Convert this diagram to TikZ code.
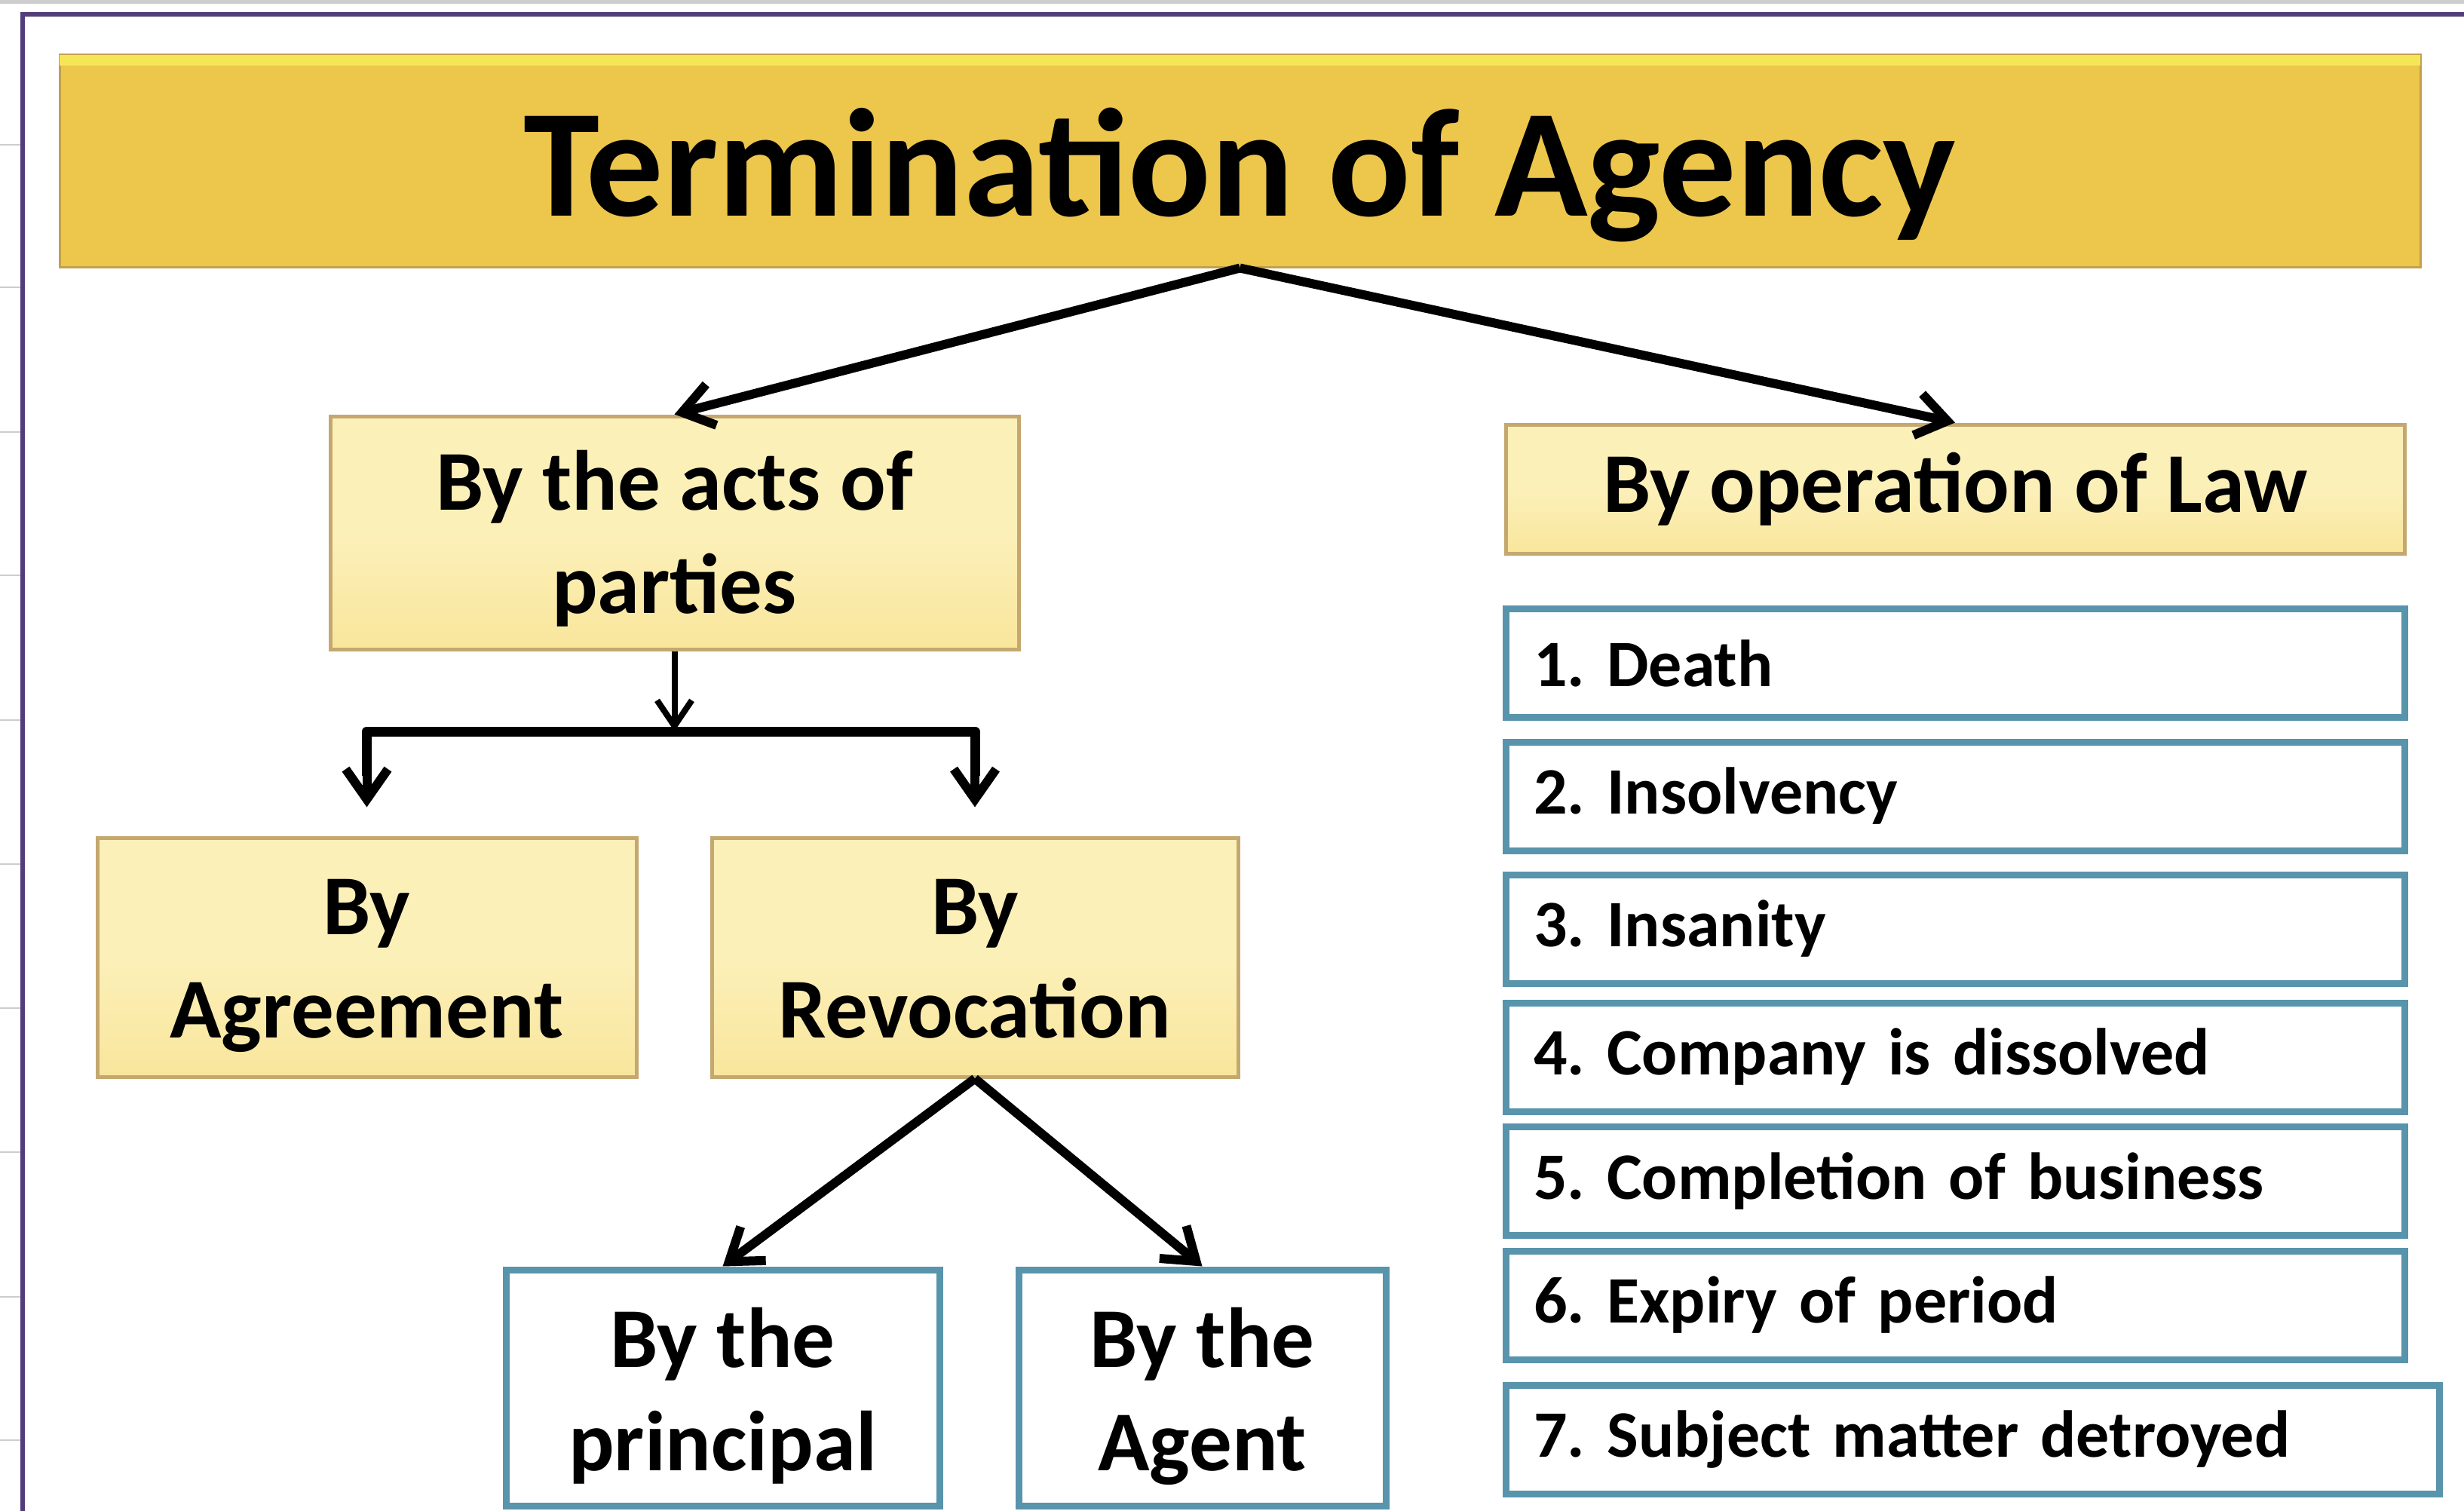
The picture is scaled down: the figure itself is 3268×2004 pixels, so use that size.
\documentclass[tikz,border=0pt]{standalone}
\usepackage{fontspec}
\setmainfont{Carlito}
\frenchspacing
\usetikzlibrary{arrows.meta,calc}
\newcommand\topstr{\rule[-41pt]{0pt}{158pt}}
\definecolor{titlefill}{RGB}{237,198,76}
\definecolor{titlehi}{RGB}{245,230,88}
\definecolor{titledark}{RGB}{196,160,74}
\definecolor{yfill}{RGB}{249,230,156}
\definecolor{ytop}{RGB}{252,240,185}
\definecolor{ydraw}{RGB}{196,168,112}
\definecolor{bdraw}{RGB}{88,148,172}
\definecolor{framecol}{RGB}{84,60,122}
\definecolor{gridcol}{RGB}{205,205,205}
\begin{document}
\begin{tikzpicture}[x=1pt,y=-1pt,
  arr/.style={draw=black,line width=12pt,-{Straight Barb[length=40pt,width=56pt]}},
  thinarr/.style={draw=black,line width=8pt,-{Straight Barb[length=34pt,width=46pt]}},
  barline/.style={draw=black,line width=13pt,line join=round},
  ybox/.style={draw=ydraw,line width=5pt,top color=ytop,bottom color=yfill,middle color=ytop,
    inner sep=0pt,align=center,font=\fontsize{113}{136}\selectfont\bfseries},
  bbox/.style={draw=bdraw,line width=9pt,fill=white,inner sep=0pt,align=center,
    font=\fontsize{113}{136}\selectfont\bfseries},
  lbox/.style={draw=bdraw,line width=9pt,fill=white,inner sep=0pt,align=left,
    minimum height=144pt,font=\fontsize{88}{106}\selectfont\bfseries}]
\useasboundingbox (0,0) rectangle (3268,2004);
\fill[white] (0,0) rectangle (3268,2004);
% page furniture
\draw[gridcol,line width=5pt] (0,3) -- (3268,3);
\foreach \yy in {192,381,573,763,955,1146,1337,1528,1720,1910}
  \draw[gridcol,line width=2.5pt] (0,\yy) -- (27,\yy);
\draw[framecol,line width=6pt] (30,2004) -- (30,19) -- (3268,19);
% title
\node[fill=titlefill,draw=titledark,line width=3pt,minimum width=3131pt,minimum height=281pt,
  inner sep=0pt,text height=150pt,text depth=5pt,font=\fontsize{204}{240}\selectfont\bfseries]
  (title) at (1644.5,213.5) {Termination of Agency};
\fill[titlehi] ($(title.north west)+(1.5,1.5)$) rectangle ($(title.north east)+(-1.5,16)$);
% left branch
\node[ybox,minimum width=913pt,minimum height=309pt] (acts) at (894.5,706.5) {\topstr By the acts of\\\strut parties};
\node[ybox,minimum width=715pt,minimum height=317pt] (agree) at (486.5,1269.5) {\topstr By\\\strut Agreement};
\node[ybox,minimum width=698pt,minimum height=317pt] (revoc) at (1293,1269.5) {\topstr By\\\strut Revocation};
\node[bbox,minimum width=575pt,minimum height=313pt] (princ) at (958.5,1840.5) {\rule[-41pt]{0pt}{164pt}By the\\\strut principal};
\node[bbox,minimum width=487pt,minimum height=313pt] (agent) at (1594.5,1840.5) {\rule[-41pt]{0pt}{164pt}By the\\\strut Agent};
% right branch
\node[ybox,minimum width=1192pt,minimum height=171pt] (law) at (2593,648.5) {By operation of Law};
\node[lbox,minimum width=1192pt,text width=1118pt] (l1) at (2593,879.5) {1. Death};
\node[lbox,minimum width=1192pt,text width=1118pt] (l2) at (2593,1056) {2. Insolvency};
\node[lbox,minimum width=1192pt,text width=1118pt] (l3) at (2593,1232) {3. Insanity};
\node[lbox,minimum width=1192pt,text width=1118pt] (l4) at (2593,1402) {4. Company is dissolved};
\node[lbox,minimum width=1192pt,text width=1118pt] (l5) at (2593,1566) {5. Completion of business};
\node[lbox,minimum width=1192pt,text width=1118pt] (l6) at (2593,1731) {6. Expiry of period};
\node[lbox,minimum width=1238pt,text width=1164pt] (l7) at (2616,1909) {7. Subject matter detroyed};
% connectors
\draw[arr] (title.south) -- (acts.north);
\draw[arr] (title.south) -- (law.north);
\coordinate (hub) at (acts.south |- 0,970);
\draw[thinarr] (acts.south) -- (hub);
\draw[barline] (hub) -| ([yshift=80pt]agree.north);
\draw[barline] (hub) -| ([yshift=80pt]revoc.north);
\draw[arr] ([yshift=82pt]agree.north) -- ([yshift=38pt]agree.north);
\draw[arr] ([yshift=82pt]revoc.north) -- ([yshift=38pt]revoc.north);
\draw[arr] (revoc.south) -- (princ.north);
\draw[arr] (revoc.south) -- (agent.north);
\end{tikzpicture}
\end{document}
